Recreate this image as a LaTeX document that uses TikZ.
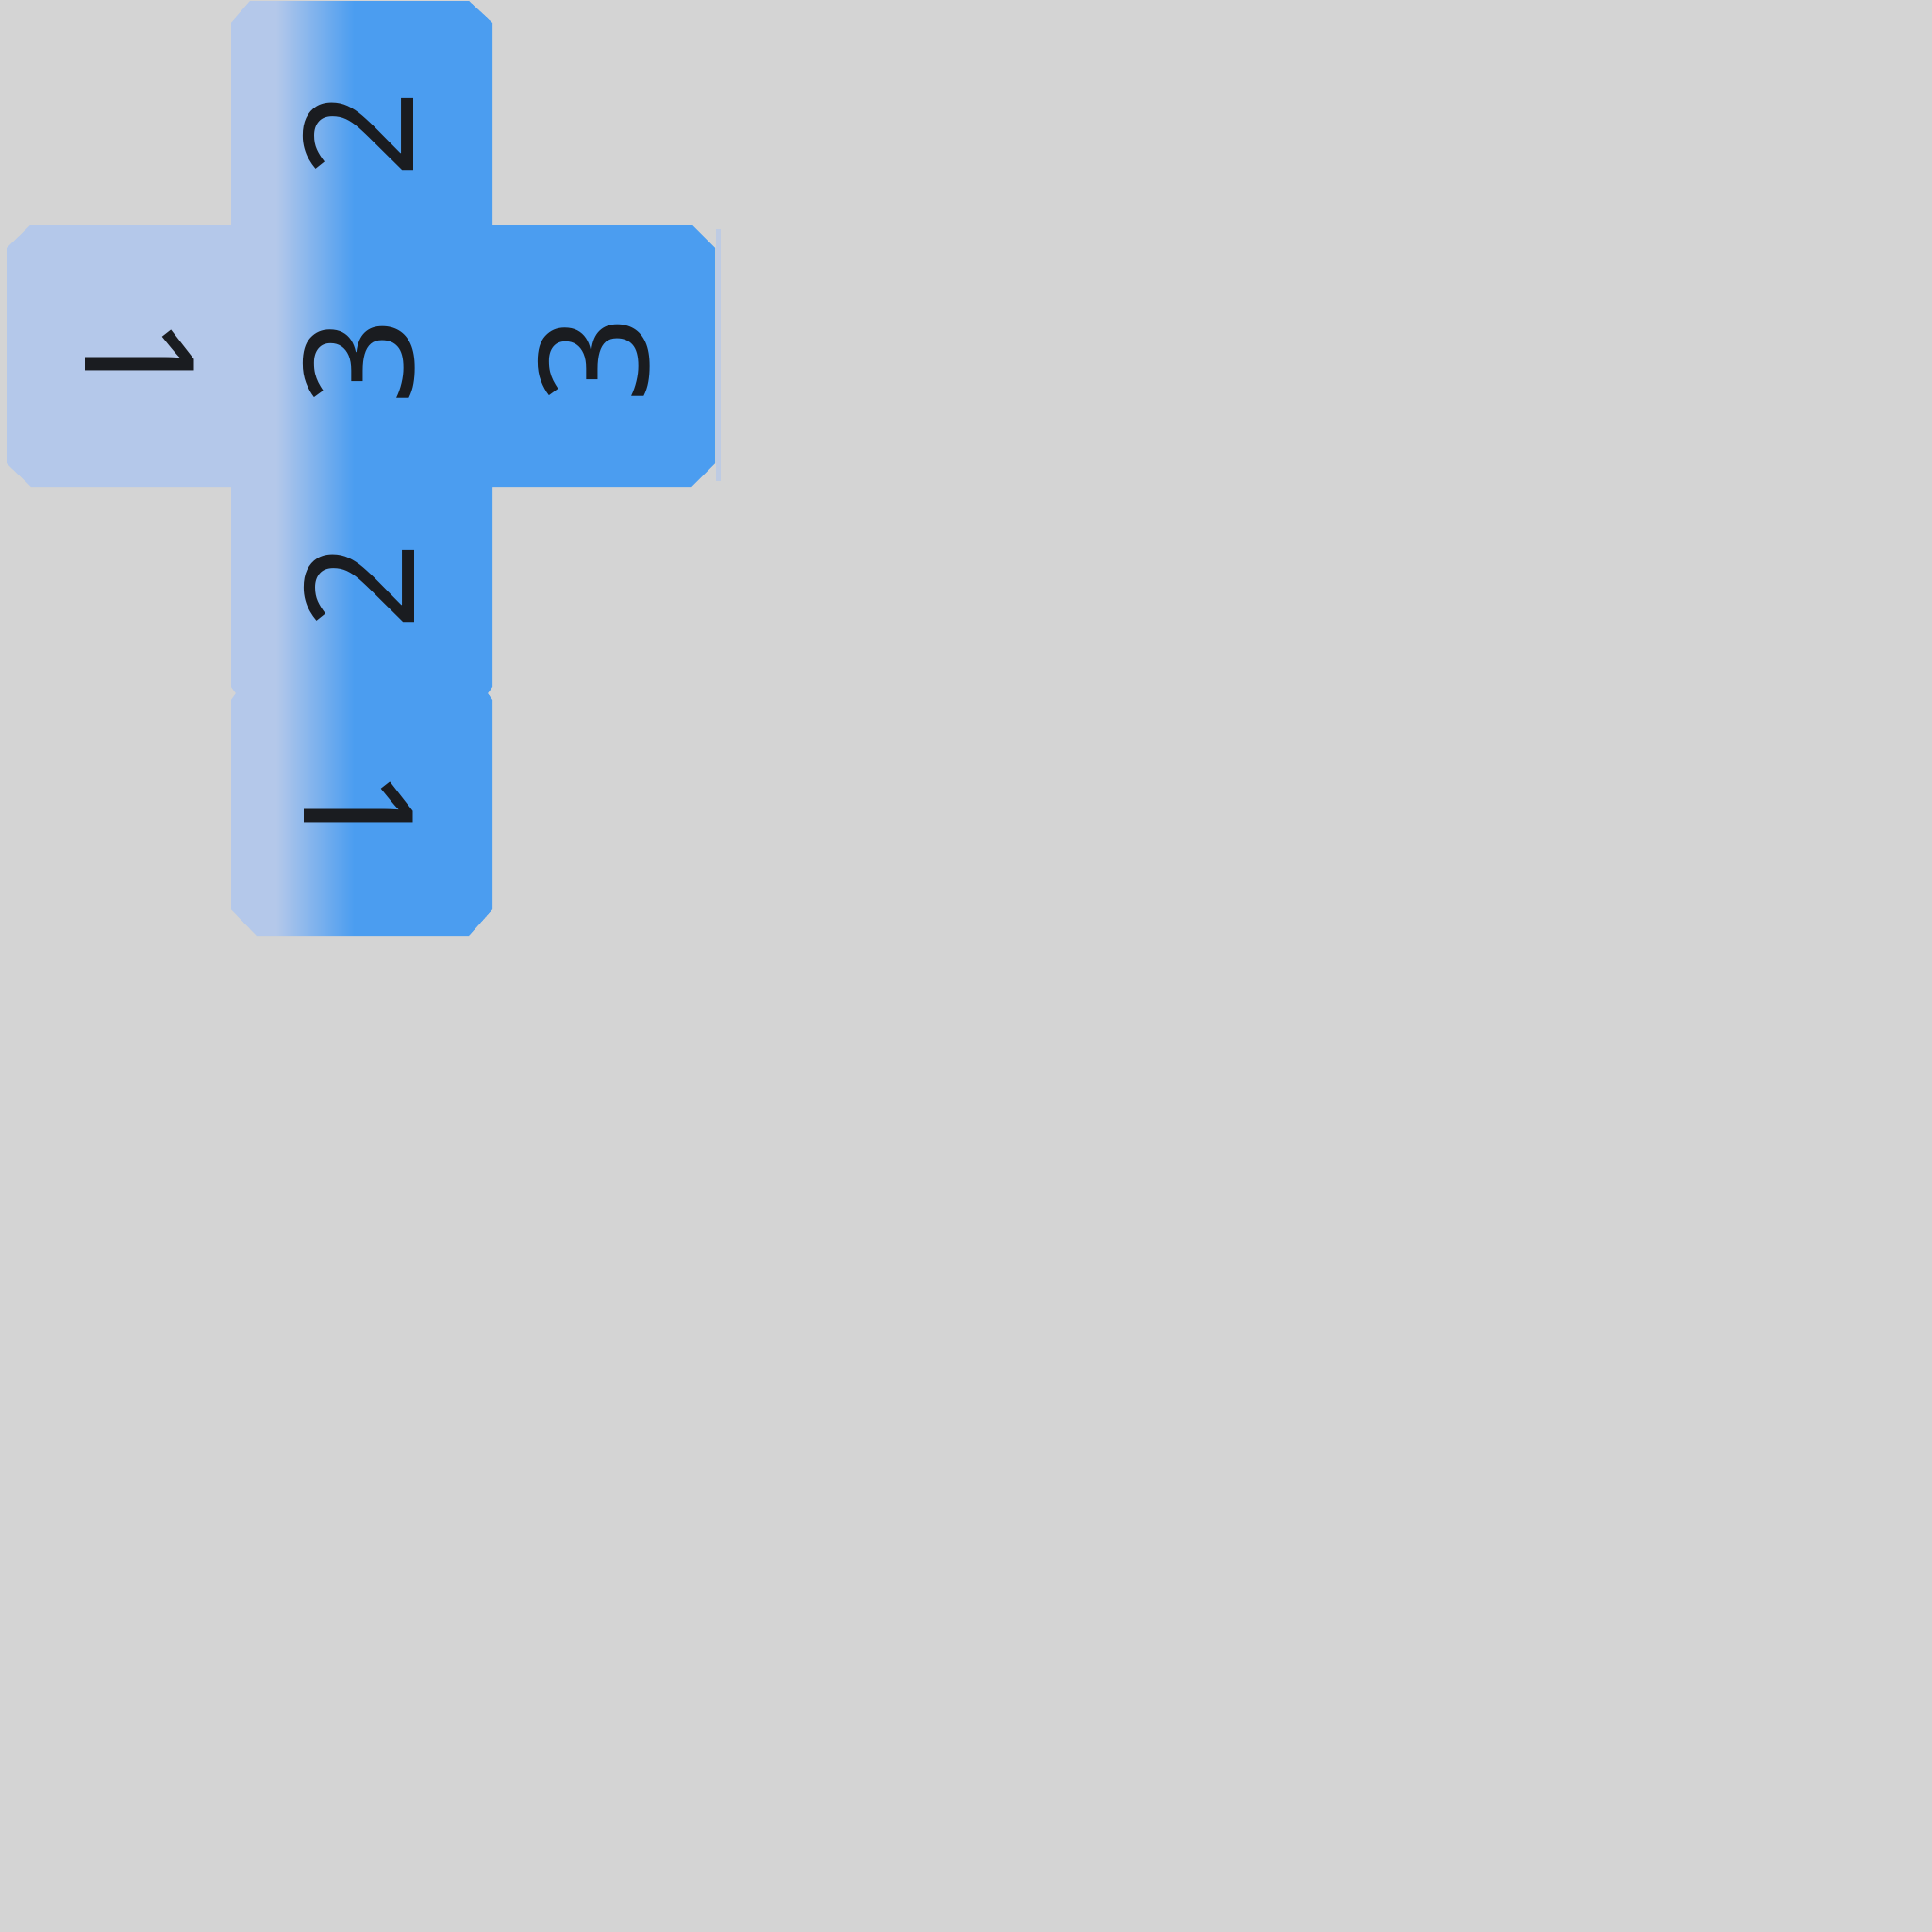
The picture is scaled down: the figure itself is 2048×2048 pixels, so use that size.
\documentclass[tikz,border=0pt]{standalone}
\usepackage{fontspec}
\setmainfont{Noto Sans}
\usepackage{tikz}
\definecolor{skylight}{HTML}{B4C8EA}
\definecolor{skyblue}{HTML}{4B9DF0}
\definecolor{paper}{HTML}{D4D4D4}
\definecolor{ink}{HTML}{1A1C20}
\pgfdeclarehorizontalshading{sky}{100bp}{color(0bp)=(skylight); color(44bp)=(skylight); color(49.5bp)=(skyblue); color(100bp)=(skyblue)}

\begin{document}
\begin{tikzpicture}[x=0.01cm,y=-0.01cm,
    digit/.style={rotate=90,inner sep=0pt,text=ink,font=\fontsize{46}{46}\selectfont},
    one/.style={digit,rotate=180}]
    \fill[paper] (0,0) rectangle (2048,2048);
    \shade[shading=sky] (245,24) -- (265,1) -- (497,1) -- (522,24) -- (522,238) -- (733,238)
        -- (758,263) -- (758,491) -- (733,516) -- (522,516) -- (522,728) -- (517,735)
        -- (522,742) -- (522,964) -- (497,992) -- (272,992) -- (245,964) -- (245,742)
        -- (250,735) -- (245,728) -- (245,516) -- (33,516) -- (7,491) -- (7,263)
        -- (33,238) -- (245,238) -- cycle;
    \fill[skylight!70!paper] (759,243) rectangle (764,510);
    \node[digit] (top) at (380,142) {2};
    \node[one] (left) at (148,382) {1};
    \node[digit] (mid) at (381,383) {3};
    \node[digit] (right) at (630,381) {3};
    \node[digit] (low) at (381,621) {2};
    \node[one] (bottom) at (380,861) {1};
\end{tikzpicture}
\end{document}
